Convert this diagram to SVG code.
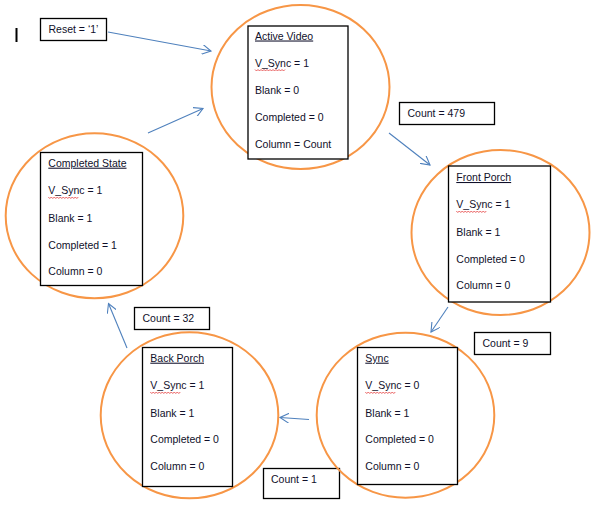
<svg xmlns="http://www.w3.org/2000/svg" width="593" height="532" viewBox="0 0 593 532">
<defs>
<style>
.c{fill:none;stroke:#F79646;stroke-width:2}
.b{fill:#fff;stroke:#000;stroke-width:1.3}
.t{font-family:"Liberation Sans",Arial,sans-serif;font-size:10.5px;fill:#10102a}
.h{text-decoration:underline}
.e{fill:none;stroke:#4F81BD;stroke-width:1.1}
.s{fill:none;stroke:#e02020;stroke-width:0.7}
</style>
<marker id="ah" viewBox="0 0 10 10" refX="9" refY="5" markerWidth="10" markerHeight="10" markerUnits="userSpaceOnUse" orient="auto">
<path d="M0,0 L9,5 L0,10" fill="none" stroke="#4F81BD" stroke-width="1.1"/>
</marker>
</defs>
<rect width="593" height="532" fill="#fff"/>
<rect x="15.5" y="28" width="2" height="14" fill="#000"/>

<g id="connectors">
<line class="e" x1="108" y1="32" x2="211" y2="51" marker-end="url(#ah)"/>
<line class="e" x1="389" y1="133" x2="430" y2="165" marker-end="url(#ah)"/>
<line class="e" x1="448" y1="307" x2="431" y2="332" marker-end="url(#ah)"/>
<line class="e" x1="309" y1="419.5" x2="280" y2="417.5" marker-end="url(#ah)"/>
<line class="e" x1="127" y1="348" x2="108.5" y2="303.5" marker-end="url(#ah)"/>
<line class="e" x1="148" y1="133" x2="203" y2="108.5" marker-end="url(#ah)"/>
</g>

<g id="reset">
<rect class="b" x="40.5" y="18.5" width="66" height="22"/>
<text class="t" x="48.5" y="32.5">Reset = ‘1’</text>
</g>
<g id="count479">
<rect class="b" x="399.5" y="102.5" width="95" height="22"/>
<text class="t" x="407.5" y="116.5">Count = 479</text>
</g>
<g id="count9">
<rect class="b" x="474.5" y="332.5" width="76" height="22"/>
<text class="t" x="482.5" y="346.5">Count = 9</text>
</g>
<g id="count1">
<rect class="b" x="263.5" y="468.5" width="76" height="30"/>
<text class="t" x="271" y="482.5">Count = 1</text>
</g>
<g id="count32">
<rect class="b" x="134.5" y="307.5" width="75" height="22"/>
<text class="t" x="142.5" y="321.5">Count = 32</text>
</g>

<g id="active-video">
<ellipse class="c" cx="300.5" cy="87" rx="89" ry="82"/>
<rect class="b" x="248" y="26" width="100" height="133"/>
<text class="t h" x="255" y="39.5">Active Video</text>
<text class="t" x="255" y="66.7">V_Sync = 1</text>
<path class="s" d="M255,69.5 l1.5,1.5 l1.5,-1.5 l1.5,1.5 l1.5,-1.5 l1.5,1.5 l1.5,-1.5 l1.5,1.5 l1.5,-1.5 l1.5,1.5 l1.5,-1.5 l1.5,1.5 l1.5,-1.5 l1.5,1.5 l1.5,-1.5 l1.5,1.5 l1.5,-1.5 l1.5,1.5 l1.5,-1.5 l1.5,1.5 l1.5,-1.5"/>
<text class="t" x="255" y="94.3">Blank = 0</text>
<text class="t" x="255" y="121.3">Completed = 0</text>
<text class="t" x="255" y="148.3">Column = Count</text>
</g>

<g id="front-porch">
<ellipse class="c" cx="500.5" cy="232.5" rx="89" ry="82.5"/>
<rect class="b" x="448.5" y="166" width="102" height="136"/>
<text class="t h" x="456.3" y="181">Front Porch</text>
<text class="t" x="456.3" y="208.3">V_Sync = 1</text>
<path class="s" d="M456.3,211 l1.5,1.5 l1.5,-1.5 l1.5,1.5 l1.5,-1.5 l1.5,1.5 l1.5,-1.5 l1.5,1.5 l1.5,-1.5 l1.5,1.5 l1.5,-1.5 l1.5,1.5 l1.5,-1.5 l1.5,1.5 l1.5,-1.5 l1.5,1.5 l1.5,-1.5 l1.5,1.5 l1.5,-1.5 l1.5,1.5 l1.5,-1.5"/>
<text class="t" x="456.3" y="235.7">Blank = 1</text>
<text class="t" x="456.3" y="262.7">Completed = 0</text>
<text class="t" x="456.3" y="289.3">Column = 0</text>
</g>

<g id="sync">
<ellipse class="c" cx="405.5" cy="415.2" rx="88.8" ry="82.5"/>
<rect class="b" x="357.5" y="347.5" width="100" height="137"/>
<text class="t h" x="365.3" y="361.7">Sync</text>
<text class="t" x="365.3" y="389.3">V_Sync = 0</text>
<path class="s" d="M365.3,392 l1.5,1.5 l1.5,-1.5 l1.5,1.5 l1.5,-1.5 l1.5,1.5 l1.5,-1.5 l1.5,1.5 l1.5,-1.5 l1.5,1.5 l1.5,-1.5 l1.5,1.5 l1.5,-1.5 l1.5,1.5 l1.5,-1.5 l1.5,1.5 l1.5,-1.5 l1.5,1.5 l1.5,-1.5 l1.5,1.5 l1.5,-1.5"/>
<text class="t" x="365.3" y="416.7">Blank = 1</text>
<text class="t" x="365.3" y="443.3">Completed = 0</text>
<text class="t" x="365.3" y="470.3">Column = 0</text>
</g>

<g id="back-porch">
<ellipse class="c" cx="189.5" cy="415.3" rx="88.8" ry="83"/>
<rect class="b" x="142.5" y="347.5" width="90" height="139"/>
<text class="t h" x="150.3" y="361.7">Back Porch</text>
<text class="t" x="150.3" y="389.3">V_Sync = 1</text>
<path class="s" d="M150.3,392 l1.5,1.5 l1.5,-1.5 l1.5,1.5 l1.5,-1.5 l1.5,1.5 l1.5,-1.5 l1.5,1.5 l1.5,-1.5 l1.5,1.5 l1.5,-1.5 l1.5,1.5 l1.5,-1.5 l1.5,1.5 l1.5,-1.5 l1.5,1.5 l1.5,-1.5 l1.5,1.5 l1.5,-1.5 l1.5,1.5 l1.5,-1.5"/>
<text class="t" x="150.3" y="416.7">Blank = 1</text>
<text class="t" x="150.3" y="443.3">Completed = 0</text>
<text class="t" x="150.3" y="470.3">Column = 0</text>
</g>

<g id="completed-state">
<ellipse class="c" cx="94.5" cy="215.8" rx="88.8" ry="82.5"/>
<rect class="b" x="40.5" y="152.5" width="102" height="133"/>
<text class="t h" x="48.3" y="166.7">Completed State</text>
<text class="t" x="48.3" y="194.3">V_Sync = 1</text>
<path class="s" d="M48.3,197 l1.5,1.5 l1.5,-1.5 l1.5,1.5 l1.5,-1.5 l1.5,1.5 l1.5,-1.5 l1.5,1.5 l1.5,-1.5 l1.5,1.5 l1.5,-1.5 l1.5,1.5 l1.5,-1.5 l1.5,1.5 l1.5,-1.5 l1.5,1.5 l1.5,-1.5 l1.5,1.5 l1.5,-1.5 l1.5,1.5 l1.5,-1.5"/>
<text class="t" x="48.3" y="221.7">Blank = 1</text>
<text class="t" x="48.3" y="248.7">Completed = 1</text>
<text class="t" x="48.3" y="275.3">Column = 0</text>
</g>
</svg>
